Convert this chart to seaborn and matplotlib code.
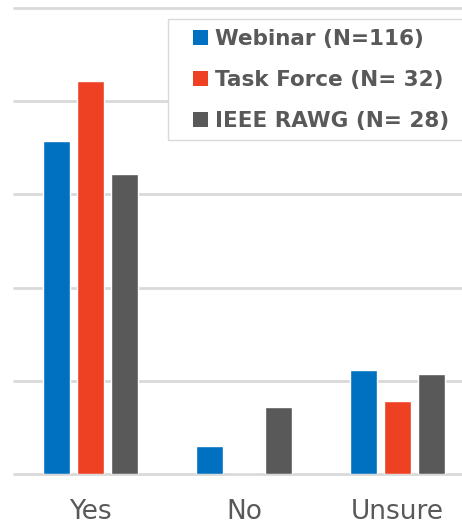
import pandas as pd
import matplotlib
matplotlib.use("Agg")
import matplotlib.pyplot as plt
import seaborn as sns
from matplotlib.patches import Patch, Rectangle

# survey answers, percent of respondents per group
answers = ["Yes", "No", "Unsure"]
groups = ["Webinar (N=116)", "Task Force (N= 32)", "IEEE RAWG (N= 28)"]
webinar = [71.4, 6.0, 22.4]
task_force = [84.4, 0.0, 15.6]
ieee_rawg = [64.3, 14.3, 21.4]
colors = ["#0070C0", "#EE4124", "#595959"]

df = pd.DataFrame({
    "Answer": answers * 3,
    "Group": [groups[0]] * 3 + [groups[1]] * 3 + [groups[2]] * 3,
    "Pct": webinar + task_force + ieee_rawg,
})

sns.set_style("white")
plt.rcParams['font.family'] = ['DejaVu Sans']

fig = plt.figure(figsize=(4.62, 5.25), dpi=100)
ax = fig.add_axes([13.75 / 462, 51 / 525, 460.5 / 462, 466 / 525])

sns.barplot(data=df, x="Answer", y="Pct", hue="Group", order=answers,
            hue_order=groups, palette=colors, width=0.67, gap=0.2,
            saturation=1, ax=ax, legend=False)

ax.set_xlim(-0.5, 2.5)
ax.set_ylim(0, 100)
ax.set_yticks([0, 20, 40, 60, 80, 100])
ax.set_yticklabels([])
ax.tick_params(axis="y", length=0)
ax.yaxis.grid(True, color="#d9d9d9", linewidth=2)
for gl in ax.get_ygridlines():
    gl.set_clip_on(False)
ax.set_axisbelow(True)
for s in ax.spines.values():
    s.set_visible(False)
ax.set_xlabel("")
ax.set_ylabel("")
ax.tick_params(axis="x", length=0, pad=18, labelsize=19, labelcolor="#595959")

# legend box drawn by hand, it runs past the right edge like the original
fig.patches.append(Rectangle((168 / 462, 1 - 140 / 525), 310 / 462, 121 / 525,
                             transform=fig.transFigure, facecolor="white",
                             edgecolor="#d9d9d9", linewidth=1, zorder=5))
handles = [Patch(facecolor=c, edgecolor="none") for c in colors]
leg = fig.legend(handles, groups, loc="upper left",
                 bbox_to_anchor=(193 / 462, 1 - 29 / 525),
                 frameon=False, prop={"size": 15.5, "weight": "bold"},
                 labelcolor="#595959", handlelength=0.7, handleheight=0.7,
                 handletextpad=0.33, labelspacing=0.97, borderpad=0,
                 borderaxespad=0)
leg.set_zorder(6)

plt.savefig("out.png", dpi=100)
